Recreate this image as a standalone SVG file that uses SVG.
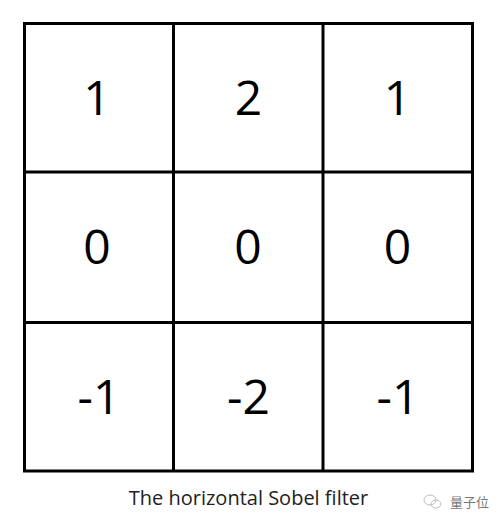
<svg xmlns="http://www.w3.org/2000/svg" width="501" height="523" viewBox="0 0 501 523">
<style>
.grid{stroke:#000;stroke-width:3;fill:none}
.num{font-family:"Open Sans","Noto Sans",sans-serif;font-size:48px;fill:#000;text-anchor:middle}
.cap{font-family:"Open Sans","Noto Sans",sans-serif;font-size:20px;fill:#222;text-anchor:middle}
.wm{font-family:"Noto Sans CJK SC",sans-serif;font-size:13px;fill:#777}
</style>
<rect width="501" height="523" fill="#fff"/>
<g id="grid" class="grid">
<rect x="24.5" y="23.5" width="448" height="447.5"/>
<line x1="173.5" y1="23.5" x2="173.5" y2="471"/>
<line x1="323" y1="23.5" x2="323" y2="471"/>
<line x1="24.5" y1="172" x2="472.5" y2="172"/>
<line x1="24.5" y1="322.5" x2="472.5" y2="322.5"/>
</g>
<g id="cells">
<g id="c11"><text class="num" x="97" y="115">1</text></g>
<g id="c12"><text class="num" x="248.5" y="115">2</text></g>
<g id="c13"><text class="num" x="397.5" y="115">1</text></g>
<g id="c21"><text class="num" x="97" y="264">0</text></g>
<g id="c22"><text class="num" x="248" y="264">0</text></g>
<g id="c23"><text class="num" x="397.5" y="264">0</text></g>
<g id="c31"><text class="num" x="99" y="414">-1</text></g>
<g id="c32"><text class="num" x="248.5" y="414">-2</text></g>
<g id="c33"><text class="num" x="398" y="414">-1</text></g>
</g>
<g id="caption"><text class="cap" x="248.5" y="505">The horizontal Sobel filter</text></g>
<g id="watermark">
<g fill="none" stroke="#bbb" stroke-width="1">
<ellipse cx="430" cy="500" rx="6" ry="5"/>
<ellipse cx="436" cy="504" rx="5" ry="4"/>
</g>
<text class="wm" x="450" y="507">量子位</text>
</g>
</svg>
